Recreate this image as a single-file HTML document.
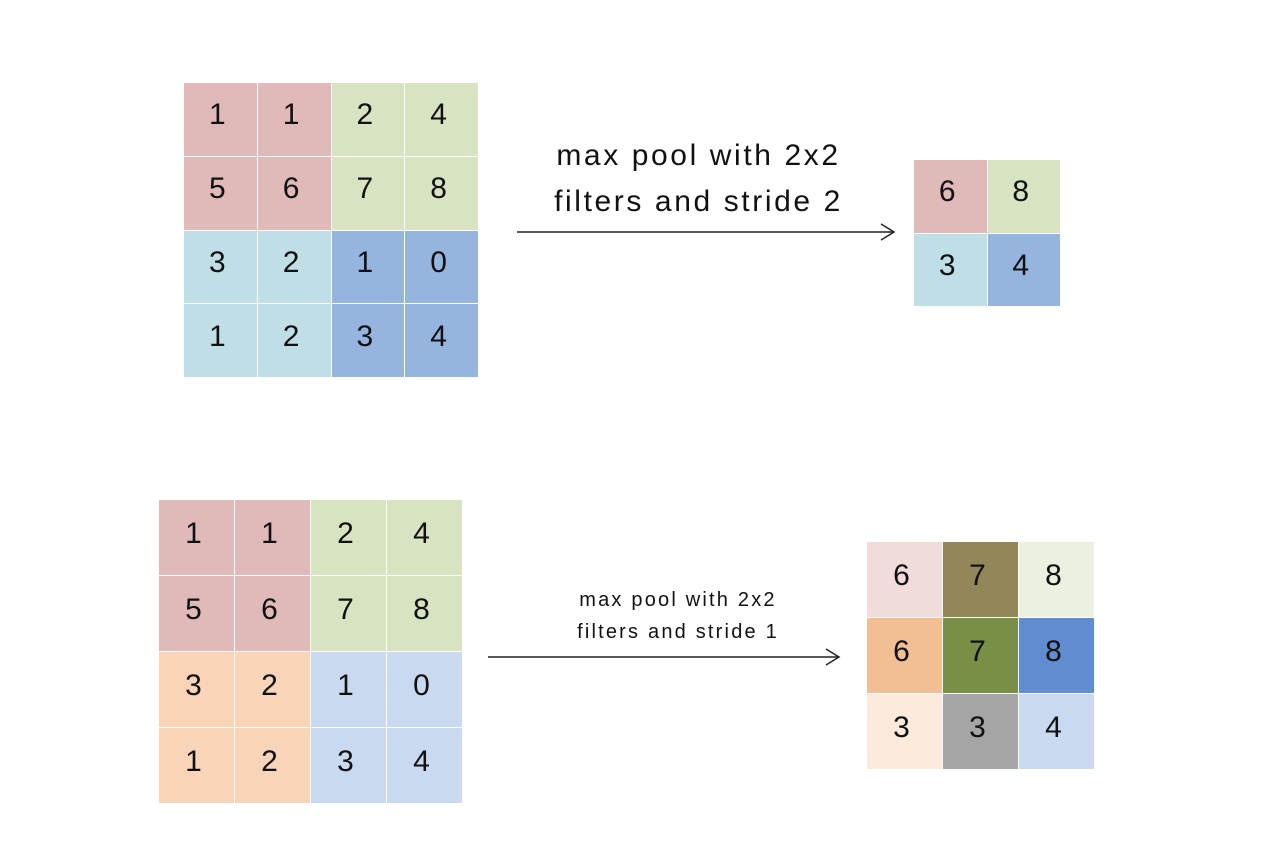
<!DOCTYPE html>
<html><head><meta charset="utf-8">
<style>
html,body{margin:0;padding:0;background:#fff;}
body{width:1282px;height:846px;position:relative;overflow:hidden;font-family:"Liberation Sans","DejaVu Sans",sans-serif;}
.cell{position:absolute;box-sizing:border-box;border:1px solid #fff;display:flex;align-items:center;justify-content:center;color:#111;padding-bottom:8px;padding-right:6px;}
.lbl{position:absolute;text-align:center;color:#111;white-space:nowrap;}
</style></head>
<body>
<div id="root"></div>
<div class="lbl" style="left:450px;top:133px;width:497px;font-size:30px;line-height:46px;letter-spacing:2.6px;">max pool with 2x2<br>filters and stride 2</div>
<div class="lbl" style="left:478px;top:584px;width:400px;font-size:20px;line-height:32px;letter-spacing:2.2px;">max pool with 2x2<br>filters and stride 1</div>
<svg width="1282" height="846" style="position:absolute;left:0;top:0;">
  <g stroke="#222" stroke-width="1.5" fill="none">
    <line x1="517" y1="232" x2="894" y2="232"/>
    <polyline points="881,224 894,232 881,240"/>
  </g>
  <g stroke="#222" stroke-width="1.5" fill="none">
    <line x1="488" y1="657" x2="839" y2="657"/>
    <polyline points="826,649 839,657 826,665"/>
  </g>
</svg>
<script>
const topInput=[[1,1,2,4],[5,6,7,8],[3,2,1,0],[1,2,3,4]];
const topInputColors=[["#e0b9b9","#e0b9b9","#d8e3c1","#d8e3c1"],["#e0b9b9","#e0b9b9","#d8e3c1","#d8e3c1"],["#c0dee6","#c0dee6","#95b4de","#95b4de"],["#c0dee6","#c0dee6","#95b4de","#95b4de"]];
const topOutput=[[6,8],[3,4]];
const topOutputColors=[["#e0b9b9","#d8e3c1"],["#c0dee6","#95b4de"]];
const botInput=[[1,1,2,4],[5,6,7,8],[3,2,1,0],[1,2,3,4]];
const botInputColors=[["#e0b9b9","#e0b9b9","#d8e3c1","#d8e3c1"],["#e0b9b9","#e0b9b9","#d8e3c1","#d8e3c1"],["#f8d5b8","#f8d5b8","#c9d9ef","#c9d9ef"],["#f8d5b8","#f8d5b8","#c9d9ef","#c9d9ef"]];
const botOutput=[[6,7,8],[6,7,8],[3,3,4]];
const botOutputColors=[["#f0dcdb","#928758","#ebf0e0"],["#f2bf95","#788f45","#5f8dcf"],["#fcebdd","#a5a5a5","#c9d9ef"]];

const root=document.getElementById('root');
function grid(name,vals,cols,x0,y0,sz,fs){
  const g=document.createElement('div');
  
  
  root.appendChild(g);
  vals.forEach((row,r)=>row.forEach((v,c)=>{
    const d=document.createElement('div');
    d.className='cell';
    
    
    d.style.left=(x0+c*sz)+'px';d.style.top=(y0+r*sz)+'px';
    d.style.width=(sz+1)+'px';d.style.height=(sz+1)+'px';
    d.style.background=cols[r][c];d.style.fontSize=fs+'px';
    d.textContent=v;
    g.appendChild(d);
  }));
}
grid('top-input-grid',topInput,topInputColors,183,82,73.75,30);
grid('top-output-grid',topOutput,topOutputColors,913,159,73.5,30);
grid('bottom-input-grid',botInput,botInputColors,158,499,76,30);
grid('bottom-output-grid',botOutput,botOutputColors,866,541,76,30);
</script>
</body></html>
